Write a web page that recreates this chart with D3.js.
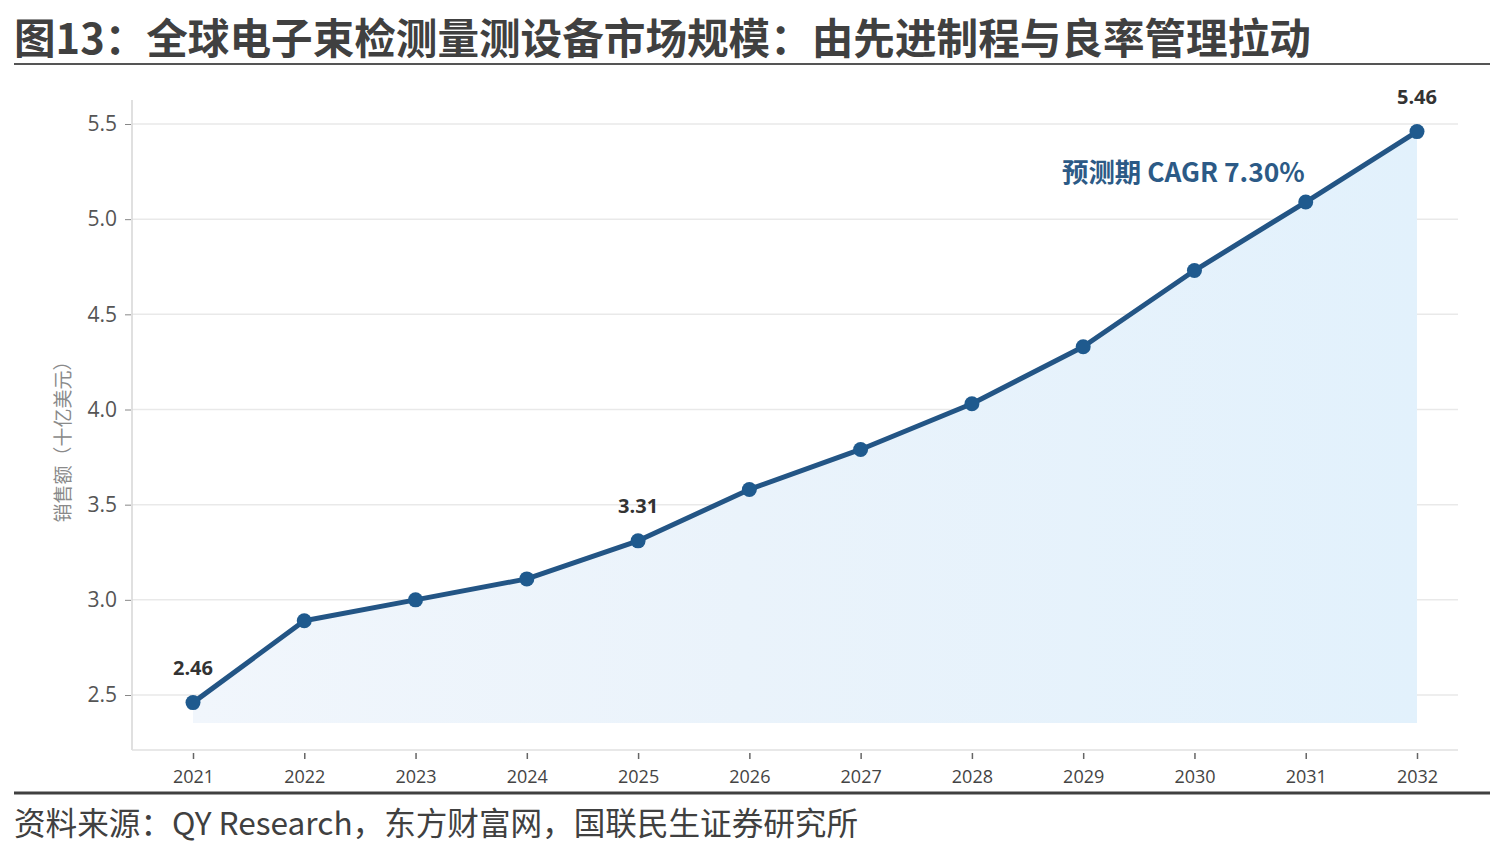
<!DOCTYPE html>
<html>
<head>
<meta charset="utf-8">
<script src="https://cdn.jsdelivr.net/npm/d3@7"></script>
<style>
  body { margin: 0; background: #fff; }
  svg { display: block; }
</style>
</head>
<body>
<div id="chart"></div>
<script>
var years = [2021, 2022, 2023, 2024, 2025, 2026, 2027, 2028, 2029, 2030, 2031, 2032];
var sales = [2.46, 2.89, 3.00, 3.11, 3.31, 3.58, 3.79, 4.03, 4.33, 4.73, 5.09, 5.46];
var yTicks = [2.5, 3.0, 3.5, 4.0, 4.5, 5.0, 5.5];
var labelYears = [2021, 2025, 2032];
var titleText = "图13：全球电子束检测量测设备市场规模：由先进制程与良率管理拉动";
var sourceText = "资料来源：QY Research，东方财富网，国联民生证券研究所";
var yLabel = "销售额（十亿美元）";
var cagrText = "预测期 CAGR 7.30%";

var W = 1492, H = 854;
var cjk = "'Noto Sans CJK SC', 'Noto Sans', sans-serif";

var svg = d3.select("#chart").append("svg")
  .attr("width", W)
  .attr("height", H);

// title + rules
svg.append("text")
  .attr("x", 14)
  .attr("y", 54)
  .attr("font-family", cjk)
  .attr("font-weight", 700)
  .attr("font-size", 41.6)
  .attr("fill", "#404040")
  .text(titleText);

svg.append("line")
  .attr("x1", 14).attr("x2", 1490)
  .attr("y1", 64).attr("y2", 64)
  .attr("stroke", "#555").attr("stroke-width", 2);

svg.append("line")
  .attr("x1", 14).attr("x2", 1490)
  .attr("y1", 793).attr("y2", 793)
  .attr("stroke", "#404040").attr("stroke-width", 3);

svg.append("text")
  .attr("x", 14)
  .attr("y", 835)
  .attr("font-family", cjk)
  .attr("font-size", 31.6)
  .attr("fill", "#404040")
  .text(sourceText);

// plot area
var plotLeft = 132, plotRight = 1458, plotTop = 100, plotBottom = 750;

var x = d3.scaleLinear()
  .domain([2021, 2032])
  .range([193, 1417]);

var y = d3.scaleLinear()
  .domain([2.5, 5.5])
  .range([695, 124]);

var base = y.invert(723);

var defs = svg.append("defs");
var grad = defs.append("linearGradient")
  .attr("id", "fillGrad")
  .attr("x1", "0%").attr("x2", "100%")
  .attr("y1", "0%").attr("y2", "0%");
grad.append("stop").attr("offset", "0%").attr("stop-color", "#f1f6fc");
grad.append("stop").attr("offset", "45%").attr("stop-color", "#eaf3fb");
grad.append("stop").attr("offset", "100%").attr("stop-color", "#e2f1fc");

var g = svg.append("g");

// grid
g.selectAll(".grid").data(yTicks).enter()
  .append("line")
  .attr("x1", plotLeft).attr("x2", plotRight)
  .attr("y1", function(d) { return y(d); })
  .attr("y2", function(d) { return y(d); })
  .attr("stroke", "#e9e9e9")
  .attr("stroke-width", 1.5);

var data = years.map(function(yr, i) { return { year: yr, value: sales[i] }; });

var area = d3.area()
  .x(function(d) { return x(d.year); })
  .y0(y(base))
  .y1(function(d) { return y(d.value); });

g.append("path")
  .datum(data)
  .attr("fill", "url(#fillGrad)")
  .attr("d", area);

// axes
var yAxis = d3.axisLeft(y)
  .tickValues(yTicks)
  .tickFormat(d3.format(".1f"))
  .tickSize(8)
  .tickPadding(6);

var yg = g.append("g")
  .attr("transform", "translate(" + plotLeft + ",0)")
  .call(yAxis);
yg.select(".domain").remove();
yg.selectAll(".tick line").attr("stroke", "#888").attr("x2", -7).attr("x1", -1);
yg.selectAll(".tick text")
  .attr("font-family", "'Open Sans', 'Noto Sans', sans-serif")
  .attr("font-size", 21)
  .attr("fill", "#555")
  .attr("x", -15);

g.append("line")
  .attr("x1", plotLeft).attr("x2", plotLeft)
  .attr("y1", plotTop).attr("y2", plotBottom)
  .attr("stroke", "#d6d6d6").attr("stroke-width", 1.5);

g.append("line")
  .attr("x1", plotLeft).attr("x2", plotRight)
  .attr("y1", plotBottom).attr("y2", plotBottom)
  .attr("stroke", "#e0e0e0").attr("stroke-width", 1.5);

var xAxis = d3.axisBottom(x)
  .tickValues(years)
  .tickFormat(d3.format("d"))
  .tickSize(0);

var xg = g.append("g")
  .attr("transform", "translate(0," + plotBottom + ")")
  .call(xAxis);
xg.select(".domain").remove();
xg.selectAll(".tick").append("line")
  .attr("y1", 3).attr("y2", 9)
  .attr("stroke", "#666").attr("stroke-width", 1.5);
xg.selectAll(".tick text")
  .attr("font-family", "'Open Sans', 'Noto Sans', sans-serif")
  .attr("font-size", 18)
  .attr("fill", "#444")
  .attr("dy", 0)
  .attr("y", 33);

// y label
svg.append("text")
  .attr("transform", "translate(70,437) rotate(-90)")
  .attr("text-anchor", "middle")
  .attr("font-family", cjk)
  .attr("font-size", 19)
  .attr("fill", "#8a8a8a")
  .text(yLabel);

// line + points
var line = d3.line()
  .x(function(d) { return x(d.year); })
  .y(function(d) { return y(d.value); });

g.append("path")
  .datum(data)
  .attr("fill", "none")
  .attr("stroke", "#235585")
  .attr("stroke-width", 5)
  .attr("stroke-linejoin", "round")
  .attr("d", line);

g.selectAll("circle").data(data).enter()
  .append("circle")
  .attr("r", 7.5)
  .attr("cx", function(d) { return x(d.year); })
  .attr("cy", function(d) { return y(d.value); })
  .attr("fill", "#1f5a8e");

// value labels
g.selectAll(".vlabel")
  .data(data.filter(function(d) { return labelYears.indexOf(d.year) >= 0; }))
  .enter()
  .append("text")
  .attr("x", function(d) { return x(d.year); })
  .attr("y", function(d) { return y(d.value) - 28; })
  .attr("text-anchor", "middle")
  .attr("font-family", "'Open Sans', 'Noto Sans', sans-serif")
  .attr("font-weight", 700)
  .attr("font-size", 20)
  .attr("fill", "#333")
  .text(function(d) { return d.value.toFixed(2); });

// CAGR note
g.append("text")
  .attr("x", 1062)
  .attr("y", 182)
  .attr("font-family", cjk)
  .attr("font-weight", 700)
  .attr("font-size", 26.4)
  .attr("fill", "#2c5a86")
  .text(cagrText);
</script>
</body>
</html>
